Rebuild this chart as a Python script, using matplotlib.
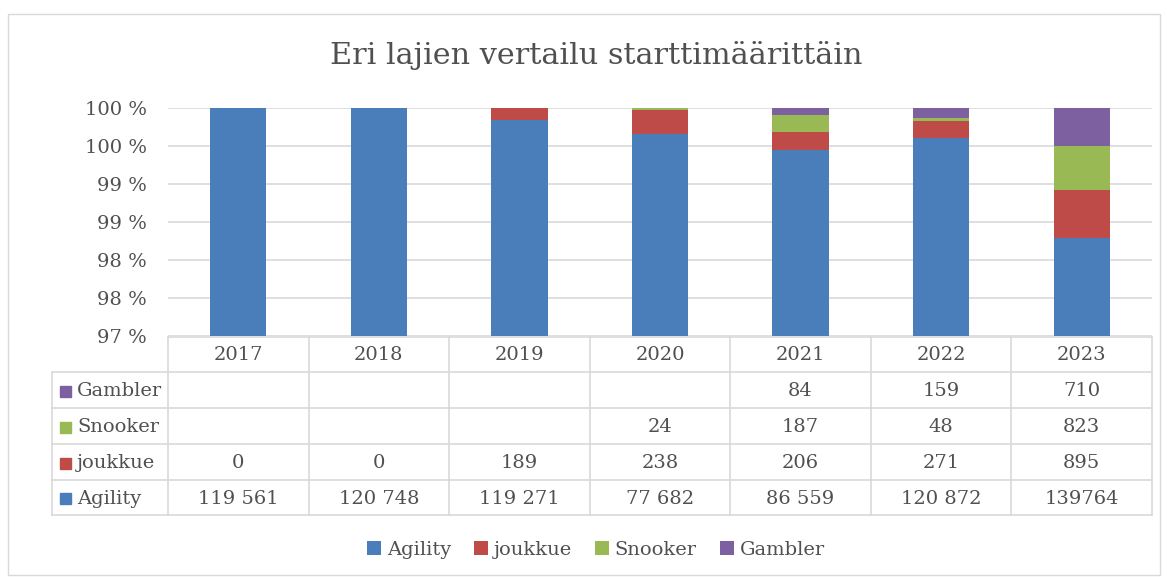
import matplotlib
matplotlib.use("Agg")
import matplotlib.pyplot as plt
from matplotlib.patches import Rectangle, Patch
import numpy as np

years = ["2017", "2018", "2019", "2020", "2021", "2022", "2023"]
series_names = ["Agility", "joukkue", "Snooker", "Gambler"]
agility = [119561, 120748, 119271, 77682, 86559, 120872, 139764]
joukkue = [0, 0, 189, 238, 206, 271, 895]
snooker = [None, None, None, 24, 187, 48, 823]
gambler = [None, None, None, None, 84, 159, 710]
agility_labels = ["119 561", "120 748", "119 271", "77 682", "86 559", "120 872", "139764"]
y_ticks = [97.0, 97.5, 98.0, 98.5, 99.0, 99.5, 100.0]
y_tick_labels = ["97 %", "98 %", "98 %", "99 %", "99 %", "100 %", "100 %"]
title = "Eri lajien vertailu starttimäärittäin"

colors = ["#4A7EBB", "#BE4B48", "#98B954", "#7D60A0"]
text_col = "#505050"
grid_col = "#D9D9D9"
FONT = "DejaVu Serif"
plt.rcParams["font.family"] = [FONT, "DejaVu Sans"]

W, H = 1167, 578
fig = plt.figure(figsize=(W / 100, H / 100), dpi=100)

def px_axes(x0, y0, x1, y1):
    return fig.add_axes([x0 / W, 1 - y1 / H, (x1 - x0) / W, (y1 - y0) / H])

# overlay for table, border, title
ov = fig.add_axes([0, 0, 1, 1])
ov.set_xlim(0, W)
ov.set_ylim(H, 0)
ov.axis("off")

ov.add_patch(Rectangle((8, 14), 1152, 561, fill=False, edgecolor="#D9D9D9", lw=1.0))
ov.text(596, 56, title, ha="center", va="center", fontsize=21.8, color=text_col)

# main plot
left, right, top, bottom = 168, 1152, 108, 336
ax = px_axes(left, top, right, bottom)
series = [agility, joukkue, snooker, gambler]
vals = np.array([[v if v is not None else 0 for v in s] for s in series], dtype=float)
totals = vals.sum(axis=0)
pct = vals / totals * 100
x = np.arange(len(years))
base = np.zeros(len(years))
for i, name in enumerate(series_names):
    ax.bar(x, pct[i], 0.4, bottom=base, color=colors[i], edgecolor="none", zorder=3, label=name)
    base += pct[i]
ax.set_xlim(-0.5, len(years) - 0.5)
ax.set_ylim(97, 100)
ax.set_yticks(y_ticks)
ax.set_yticklabels(y_tick_labels, fontsize=14, color=text_col)
ax.tick_params(axis="y", length=0, pad=15)
ax.set_xticks([])
for t in y_ticks:
    ax.axhline(t, color=grid_col, lw=1.2, zorder=1)
for s in ax.spines.values():
    s.set_visible(False)
ax.patch.set_alpha(0)

# data table
row_y = [337, 372, 408, 444, 480, 515]
col_x = [left + (right - left) * i / len(years) for i in range(len(years) + 1)]
tleft = 52
lw = 1.2
ov.plot([left, right], [row_y[0], row_y[0]], color=grid_col, lw=lw)
for yy in row_y[1:]:
    ov.plot([tleft, right], [yy, yy], color=grid_col, lw=lw)
for xx in col_x:
    ov.plot([xx, xx], [row_y[0], row_y[-1]], color=grid_col, lw=lw)
ov.plot([tleft, tleft], [row_y[1], row_y[-1]], color=grid_col, lw=lw)

for j, yr in enumerate(years):
    ov.text((col_x[j] + col_x[j + 1]) / 2, (row_y[0] + row_y[1]) / 2 + 1, yr,
            ha="center", va="center", fontsize=14, color=text_col)

def fmt(v):
    if v is None:
        return ""
    return f"{v:,}".replace(",", " ")

table_rows = [
    ("Gambler", colors[3], [fmt(v) for v in gambler]),
    ("Snooker", colors[2], [fmt(v) for v in snooker]),
    ("joukkue", colors[1], [fmt(v) for v in joukkue]),
    ("Agility", colors[0], agility_labels),
]
for r, (name, c, labels) in enumerate(table_rows):
    yc = (row_y[r + 1] + row_y[r + 2]) / 2 + 1
    ov.add_patch(Rectangle((60, yc - 5.5), 11, 11, color=c))
    ov.text(77, yc, name, ha="left", va="center", fontsize=14, color=text_col)
    for j, lab in enumerate(labels):
        ov.text((col_x[j] + col_x[j + 1]) / 2, yc, lab, ha="center", va="center",
                fontsize=14, color=text_col)

# legend
handles = [Patch(facecolor=colors[i], edgecolor="none") for i in range(4)]
fig.legend(handles, series_names, loc="center", bbox_to_anchor=(596 / W, 1 - 550 / H),
           ncol=4, frameon=False, fontsize=14, handlelength=0.7, handleheight=0.7,
           handletextpad=0.3, columnspacing=1.2, labelcolor=text_col)

fig.savefig("out.png", dpi=100)
